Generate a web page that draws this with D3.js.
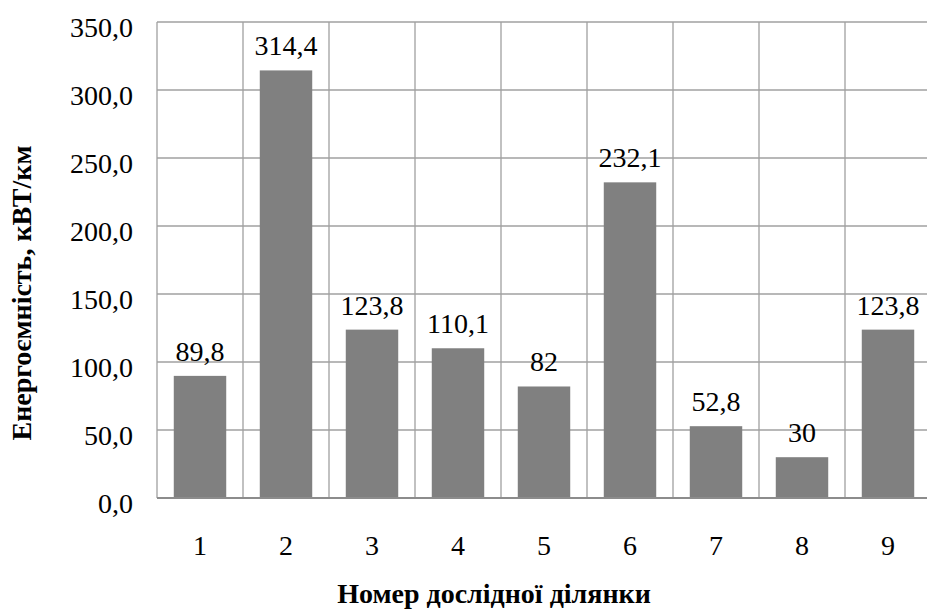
<!DOCTYPE html>
<html><head><meta charset="utf-8">
<script src="https://cdn.jsdelivr.net/npm/d3@7"></script>
<style>body{margin:0;background:#fff}svg{display:block}</style>
</head><body><svg id="c" width="927" height="609" font-family="'Liberation Serif', 'Times New Roman', Times, 'DejaVu Serif', serif"></svg>
<script>
const categories = ["1","2","3","4","5","6","7","8","9"];
const values = [89.8, 314.4, 123.8, 110.1, 82, 232.1, 52.8, 30, 123.8];
const valueLabels = ["89,8","314,4","123,8","110,1","82","232,1","52,8","30","123,8"];
const yTicks = [0,50,100,150,200,250,300,350];
const yTitle = "Енергоємність, кВТ/км";
const xTitle = "Номер дослідної ділянки";

const svg = d3.select("#c");
const L = 157, R = 931, T = 22, B = 498;
const x = d3.scaleBand().domain(categories).range([L, R]).paddingInner(0.39).paddingOuter(0.195);
const xc = d3.scaleBand().domain(categories).range([L, R]);
const y = d3.scaleLinear().domain([0, 350]).range([B, T]);

svg.append("g").selectAll("line").data(yTicks.filter(d=>d>0)).join("line")
  .attr("x1", L).attr("x2", R).attr("y1", d=>y(d)).attr("y2", d=>y(d))
  .attr("stroke", "#a0a0a0").attr("stroke-width", 1.3);
svg.append("g").selectAll("line").data(categories).join("line")
  .attr("x1", d=>xc(d)).attr("x2", d=>xc(d)).attr("y1", T).attr("y2", B)
  .attr("stroke", "#a0a0a0").attr("stroke-width", 1.3);

svg.append("g").selectAll("rect").data(values).join("rect")
  .attr("x", (d,i)=>x(categories[i])).attr("width", x.bandwidth())
  .attr("y", d=>y(d)).attr("height", d=>B - y(d)).attr("fill", "#808080");

svg.append("line").attr("x1", L).attr("x2", R).attr("y1", B).attr("y2", B)
  .attr("stroke", "#8c8c8c").attr("stroke-width", 2);

svg.append("g").selectAll("text").data(values).join("text")
  .attr("x", (d,i)=>xc(categories[i]) + xc.bandwidth()/2).attr("y", d=>y(d) - 15)
  .attr("text-anchor", "middle").attr("font-size", 28).attr("fill", "#000")
  .text((d,i)=>valueLabels[i]);

svg.append("g").selectAll("text").data(yTicks).join("text")
  .attr("x", 133).attr("y", d=>y(d) + 14.5).attr("text-anchor", "end")
  .attr("font-size", 28).text(d=>d3.format(".1f")(d).replace(".", ","));

svg.append("g").selectAll("text").data(categories).join("text")
  .attr("x", d=>xc(d) + xc.bandwidth()/2).attr("y", 555).attr("text-anchor", "middle")
  .attr("font-size", 28).text(d=>d);

svg.append("text").attr("x", 494).attr("y", 603).attr("text-anchor", "middle")
  .attr("font-size", 28).attr("font-weight", "bold").text(xTitle);
svg.append("text").attr("transform", "translate(31,293) rotate(-90)").attr("text-anchor", "middle")
  .attr("font-size", 28).attr("font-weight", "bold").text(yTitle);
</script></body></html>
